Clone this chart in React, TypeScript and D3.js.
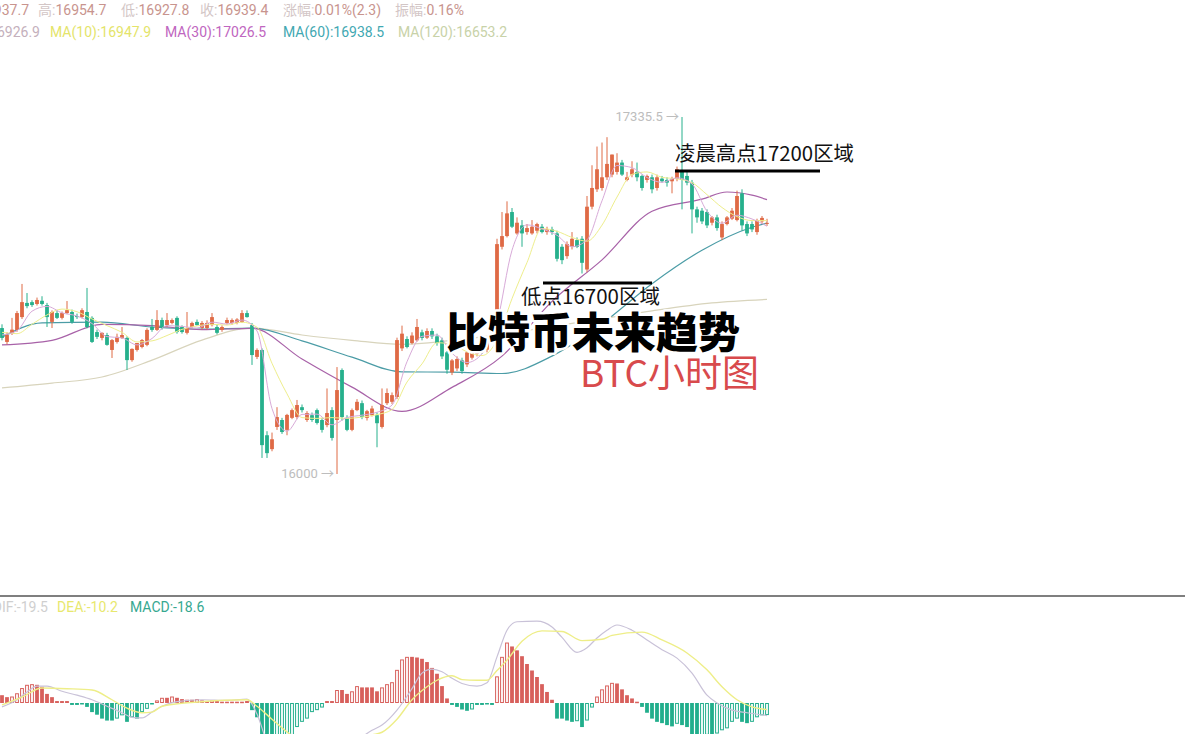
import * as d3 from "d3";

const W = 1185;
const H = 734;

// hourly candles: [open, high, low, close]
const CANDLES: [number, number, number, number][] = [
  [16546, 16560, 16500, 16509], [16494, 16530, 16485, 16520], [16528, 16584, 16520, 16540], [16539, 16610, 16532, 16602],
  [16587, 16711, 16580, 16643], [16640, 16677, 16620, 16628], [16643, 16650, 16625, 16632], [16636, 16660, 16630, 16651],
  [16648, 16665, 16630, 16636], [16632, 16640, 16550, 16587], [16569, 16612, 16546, 16606], [16602, 16610, 16580, 16584],
  [16584, 16608, 16578, 16602], [16602, 16647, 16598, 16613], [16606, 16615, 16562, 16569], [16591, 16600, 16580, 16587],
  [16587, 16620, 16582, 16613], [16606, 16696, 16545, 16550], [16584, 16590, 16490, 16494], [16531, 16540, 16505, 16513],
  [16509, 16530, 16500, 16528], [16520, 16528, 16480, 16483], [16464, 16505, 16434, 16501], [16494, 16525, 16488, 16513],
  [16509, 16550, 16505, 16520], [16509, 16515, 16389, 16426], [16426, 16470, 16420, 16468], [16464, 16490, 16458, 16490],
  [16475, 16505, 16470, 16501], [16483, 16545, 16478, 16539], [16550, 16580, 16532, 16539], [16539, 16613, 16535, 16576],
  [16576, 16585, 16540, 16546], [16557, 16602, 16550, 16576], [16565, 16582, 16560, 16576], [16584, 16590, 16525, 16531],
  [16550, 16556, 16525, 16531], [16528, 16606, 16522, 16546], [16550, 16570, 16545, 16565], [16569, 16578, 16555, 16557],
  [16546, 16572, 16540, 16565], [16546, 16575, 16540, 16565], [16557, 16602, 16552, 16587], [16550, 16560, 16522, 16528],
  [16539, 16556, 16532, 16550], [16565, 16585, 16560, 16576], [16565, 16582, 16558, 16576], [16566, 16583, 16560, 16578],
  [16569, 16613, 16565, 16602], [16602, 16612, 16585, 16587], [16557, 16565, 16408, 16445], [16438, 16470, 16430, 16464],
  [16464, 16470, 16060, 16108], [16145, 16160, 16060, 16078], [16093, 16155, 16085, 16130], [16176, 16250, 16165, 16213],
  [16202, 16210, 16150, 16157], [16165, 16225, 16145, 16221], [16210, 16245, 16205, 16239], [16213, 16277, 16205, 16258],
  [16250, 16260, 16230, 16239], [16202, 16235, 16195, 16228], [16220, 16230, 16195, 16202], [16239, 16245, 16185, 16191],
  [16202, 16210, 16155, 16165], [16183, 16320, 16175, 16228], [16239, 16250, 16125, 16135], [16202, 16400, 16000, 16314],
  [16389, 16395, 16200, 16213], [16210, 16220, 16160, 16165], [16165, 16245, 16160, 16239], [16239, 16280, 16235, 16270],
  [16265, 16275, 16205, 16213], [16210, 16240, 16200, 16235], [16220, 16255, 16215, 16245], [16220, 16230, 16100, 16190],
  [16176, 16320, 16170, 16258], [16265, 16320, 16258, 16303], [16270, 16305, 16262, 16295], [16288, 16510, 16280, 16501],
  [16470, 16555, 16460, 16525], [16505, 16515, 16470, 16475], [16490, 16530, 16485, 16518], [16500, 16580, 16495, 16550],
  [16530, 16540, 16500, 16509], [16510, 16545, 16505, 16535], [16535, 16545, 16505, 16515], [16515, 16525, 16480, 16490],
  [16500, 16510, 16430, 16440], [16455, 16460, 16375, 16390], [16380, 16430, 16370, 16425], [16395, 16440, 16385, 16430],
  [16425, 16435, 16375, 16385], [16410, 16460, 16400, 16455], [16435, 16480, 16428, 16470], [16450, 16485, 16440, 16480],
  [16485, 16495, 16450, 16460], [16465, 16515, 16455, 16505], [16495, 16545, 16490, 16535], [16510, 16880, 16500, 16860],
  [16850, 16980, 16840, 16890], [16890, 17020, 16885, 16975], [16980, 16995, 16920, 16925], [16900, 16960, 16895, 16940],
  [16930, 16950, 16850, 16900], [16905, 16935, 16895, 16920], [16900, 16950, 16895, 16925], [16910, 16940, 16900, 16935],
  [16925, 16935, 16900, 16905], [16905, 16925, 16895, 16915], [16915, 16925, 16895, 16905], [16900, 16910, 16795, 16805],
  [16850, 16860, 16785, 16800], [16815, 16870, 16805, 16860], [16850, 16905, 16840, 16880], [16875, 16885, 16845, 16850],
  [16880, 16890, 16750, 16790], [16765, 17040, 16755, 17000], [17000, 17155, 16990, 17070], [17065, 17225, 17055, 17140],
  [17070, 17240, 17060, 17110], [17110, 17260, 17100, 17160], [17120, 17195, 17110, 17195], [17130, 17200, 17120, 17165],
  [17165, 17175, 17115, 17120], [17100, 17130, 17095, 17110], [17120, 17170, 17110, 17140], [17130, 17165, 17095, 17110],
  [17115, 17120, 17060, 17070], [17100, 17120, 17090, 17115], [17110, 17120, 17050, 17065], [17070, 17120, 17060, 17110],
  [17105, 17115, 17090, 17095], [17100, 17110, 17075, 17090], [17095, 17112, 17050, 17105], [17105, 17150, 17095, 17140],
  [17130, 17335.5, 16990, 17100], [17115, 17130, 17080, 17090], [17090, 17100, 16900, 16990], [16990, 17000, 16940, 16960],
  [16985, 16995, 16935, 16945], [16980, 16990, 16920, 16930], [16940, 16965, 16930, 16960], [16960, 16970, 16910, 16920],
  [16885, 16945, 16875, 16935], [16935, 16965, 16930, 16960], [16955, 16995, 16950, 16985], [16950, 17060, 16945, 17040],
  [17050, 17065, 16910, 16930], [16935, 16945, 16890, 16900], [16935, 16945, 16905, 16915], [16905, 16955, 16895, 16950],
  [16945, 16965, 16935, 16958], [16937.7, 16954.7, 16927.8, 16939.4],
];

// moving averages, read every 3 candles for the fast ones
const MA5 = [
  16520, 16536, 16609, 16627, 16603, 16591, 16563, 16514, 16509, 16483, 16507, 16555, 16552, 16546, 16568, 16561,
  16576, 16535, 16245, 16160, 16223, 16224, 16184, 16211, 16220, 16231, 16258, 16420, 16515, 16520, 16452, 16417,
  16450, 16568, 16837, 16932, 16917, 16893, 16850, 16876, 17022, 17154, 17146, 17109, 17091, 17108, 17085, 16983,
  16938, 16968, 16954, 16926.9,
];
const MA10 = [
  16530, 16525, 16560, 16595, 16617, 16607, 16580, 16555, 16530, 16494, 16498, 16518, 16541, 16554, 16560, 16557,
  16568, 16549, 16414, 16300, 16211, 16208, 16211, 16208, 16213, 16222, 16241, 16344, 16412, 16491, 16485, 16457,
  16443, 16501, 16656, 16791, 16918, 16908, 16885, 16871, 16931, 17036, 17121, 17130, 17110, 17104, 17090, 17045,
  16997, 16963, 16948, 16947.9,
];
const MA30_IDX = [0, 10, 20, 30, 40, 50, 60, 70, 80, 90, 100, 110, 120, 130, 140, 145, 150, 153];
const MA30 = [16483, 16500, 16560, 16555, 16540, 16545, 16430, 16325, 16234, 16324, 16441, 16646, 16801, 16983, 17028, 17055, 17043, 17026.5];
const MA60_IDX = [0, 8, 20, 30, 40, 50, 60, 70, 80, 90, 100, 110, 120, 130, 140, 150, 153];
const MA60 = [16512, 16565, 16568, 16550, 16542, 16546, 16498, 16437, 16382, 16381, 16376, 16441, 16562, 16712, 16837, 16923, 16938.5];
const MA120_IDX = [0, 10, 20, 30, 40, 50, 60, 70, 80, 90, 100, 110, 120, 130, 142, 153];
const MA120 = [16322, 16340, 16363, 16426, 16501, 16546, 16520, 16500, 16485, 16500, 16522, 16552, 16580, 16610, 16640, 16653.2];

// MACD histogram, one bar per candle
const MACD_HIST = [
  12, 9, 10, 15, 23, 28, 29, 28, 25, 14, 9, 3, 3, 3, -3, -3, -2, -6, -14, -18, -24, -27, -27, -24, -19, -29, -22, -24,
  -14, -9, -2, 4, 8, 8, 10, 8, 6, 5, 5, 6, 4, 3, 4, 3, 2, 2, 2, 2, 2, 3, -11, -22, -55, -60, -62, -60, -58, -55,
  -50, -37, -29, -24, -14, -11, -7, 3, 3, 20, 20, 14, 18, 26, 24, 24, 24, 18, 24, 29, 32, 51, 67, 71, 71, 70, 68, 63,
  54, 45, 26, 7, -3, -6, -10, -12, -10, -3, -3, -1, -3, 41, 71, 93, 87, 81, 72, 60, 50, 40, 29, 17, 5, -24, -24, -27,
  -29, -28, -37, -27, -7, 10, 21, 27, 31, 30, 21, 12, 7, 2, -6, -15, -24, -29, -31, -34, -36, -32, -34, -37, -50, -52,
  -50, -49, -49, -47, -42, -39, -29, -24, -29, -31, -29, -22, -19, -18.6,
];
const DIF_IDX = [0, 3, 5, 7, 9, 12, 15, 18, 21, 24, 26, 28, 30, 32, 35, 40, 45, 49, 51, 53, 56, 60, 64, 68, 72, 74, 76, 79, 82, 84, 86, 88, 90, 92, 95, 97, 99, 101, 103, 107, 110, 112, 115, 117, 119, 121, 123, 126, 129, 132, 135, 138, 141, 143, 146, 149, 153];
const DIF = [-6, 5, 17, 26, 26, 18, 12, 5, -5, -15, -22, -23, -14, -5, 2, 5, 4, 6, -17, -60, -85, -90, -82, -70, -52, -42, -34, -11, 22, 46, 52, 48, 38, 30, 26, 31, 71, 112, 125, 126, 117, 101, 78, 85, 100, 112, 120, 112, 97, 82, 69, 46, 12, 0, -11, -15, -19.5];
const DEA_IDX = [0, 4, 8, 13, 18, 22, 25, 28, 30, 32, 40, 49, 51, 54, 58, 62, 66, 70, 74, 76, 79, 82, 85, 87, 90, 92, 95, 97, 99, 101, 104, 108, 112, 116, 120, 122, 128, 132, 137, 141, 144, 147, 150, 153];
const DEA = [-3, 9, 23, 22, 20, 5, -8, -15, -14, -5, 2, 5, -5, -25, -50, -62, -65, -58, -49, -45, -25, 5, 25, 35, 42, 36, 35, 35, 50, 66, 95, 111, 110, 96, 98, 104, 109, 97, 77, 51, 25, 5, -6, -10.2];

const UP = "#df6a45";
const DOWN = "#26b08c";
const BAR_UP = "#d8605c";
const BAR_DOWN = "#22ae8c";
const SANS = "Roboto, 'Noto Sans CJK SC', sans-serif";
const CJK = "'Noto Sans CJK SC', sans-serif";

export default function App() {
  const x = d3.scaleLinear().domain([0, CANDLES.length - 1]).range([2, 767]);
  const y = d3.scaleLinear().domain([16000, 17335.5]).range([474, 117]);
  const ym = d3.scaleLinear().domain([0, 100]).range([703, 638]);
  const bw = 3.8;

  const fastIdx = d3.range(0, CANDLES.length, 3);
  const maLine = (idx: number[], vals: number[]) =>
    d3.line<number>().x((_, k) => x(idx[k])).y((v) => y(v)).curve(d3.curveMonotoneX)(vals) ?? "";
  const macdLine = (idx: number[], vals: number[]) =>
    d3.line<number>().x((_, k) => x(idx[k])).y((v) => ym(v)).curve(d3.curveMonotoneX)(vals) ?? "";

  return (
    <svg width={W} height={H} style={{ position: "absolute", left: 0, top: 0, background: "#fff" }}>
      <defs>
        <clipPath id="macd-clip">
          <rect x={0} y={598} width={W} height={H - 598} />
        </clipPath>
      </defs>

      {/* header rows */}
      <g fontFamily={SANS} fontSize={14}>
        <text x={29} y={15} textAnchor="end"><tspan fill="#d3c6c6">开:</tspan><tspan fill="#c8948e">16937.7</tspan></text>
        <text x={38} y={15}><tspan fill="#d3c6c6">高:</tspan><tspan fill="#c8948e">16954.7</tspan></text>
        <text x={121} y={15}><tspan fill="#d3c6c6">低:</tspan><tspan fill="#c8948e">16927.8</tspan></text>
        <text x={200} y={15}><tspan fill="#d3c6c6">收:</tspan><tspan fill="#c8948e">16939.4</tspan></text>
        <text x={283} y={15}><tspan fill="#d3c6c6">涨幅:</tspan><tspan fill="#c8948e">0.01%(2.3)</tspan></text>
        <text x={395} y={15}><tspan fill="#d3c6c6">振幅:</tspan><tspan fill="#c8948e">0.16%</tspan></text>
        <text x={40} y={37} textAnchor="end" fill="#c4b0bc">MA(5):16926.9</text>
        <text x={50} y={37} fill="#e4e46a">MA(10):16947.9</text>
        <text x={165} y={37} fill="#c066c0">MA(30):17026.5</text>
        <text x={283} y={37} fill="#3fa8b2">MA(60):16938.5</text>
        <text x={398} y={37} fill="#c8d2a8">MA(120):16653.2</text>
      </g>

      {/* slow moving averages */}
      <g fill="none" strokeWidth={1.2}>
        <path d={maLine(MA120_IDX, MA120)} stroke="#d8d4bc" />
        <path d={maLine(MA60_IDX, MA60)} stroke="#4b9ca6" />
        <path d={maLine(MA30_IDX, MA30)} stroke="#a862a8" />
      </g>

      {/* candles */}
      <g>
        {CANDLES.map(([o, h, l, c], i) => {
          const col = c >= o ? UP : DOWN;
          const top = y(Math.max(o, c));
          const bh = Math.max(1, Math.abs(y(o) - y(c)));
          return (
            <g key={i}>
              <line x1={x(i)} x2={x(i)} y1={y(h)} y2={y(l)} stroke={col} strokeWidth={1} />
              <rect x={x(i) - bw / 2} y={top} width={bw} height={bh} fill={col} />
            </g>
          );
        })}
      </g>

      {/* fast moving averages */}
      <g fill="none" strokeWidth={1}>
        <path d={maLine(fastIdx, MA10)} stroke="#eeee8c" />
        <path d={maLine(fastIdx, MA5)} stroke="#d8aad8" />
      </g>

      {/* extreme labels */}
      <g fontFamily={SANS} fontSize={13} fill="#bdbdbd">
        <text x={x(136) - 3} y={y(17335.5) + 4} textAnchor="end">17335.5 →</text>
        <text x={x(67) - 3} y={y(16000) + 4} textAnchor="end">16000 →</text>
      </g>

      {/* annotations */}
      <line x1={675} x2={820} y1={171} y2={171} stroke="#000" strokeWidth={3} />
      <text x={675} y={161} fontFamily={CJK} fontSize={20.4} fill="#111">凌晨高点17200区域</text>
      <line x1={543} x2={652} y1={283} y2={283} stroke="#000" strokeWidth={3} />
      <text x={521} y={304} fontFamily={CJK} fontSize={20.5} fill="#111">低点16700区域</text>
      <text x={446} y={348} fontFamily={CJK} fontSize={42} fontWeight={900} fill="#000"
        stroke="#fff" strokeWidth={5} strokeLinejoin="round" style={{ paintOrder: "stroke" }}>比特币未来趋势</text>
      <text x={580} y={387} fontFamily={CJK} fontSize={37} fill="#d84a4c">BTC小时图</text>

      {/* divider */}
      <line x1={0} x2={W} y1={596} y2={596} stroke="#555" strokeWidth={1.6} />

      {/* MACD header */}
      <g fontFamily={SANS} fontSize={14}>
        <text x={48} y={612} textAnchor="end" fill="#cfcfcf">DIF:-19.5</text>
        <text x={57} y={612} fill="#e8e86e">DEA:-10.2</text>
        <text x={130} y={612} fill="#36a890">MACD:-18.6</text>
      </g>

      {/* MACD histogram and lines */}
      <g clipPath="url(#macd-clip)">
        {MACD_HIST.map((v, i) => {
          const prev = i > 0 ? MACD_HIST[i - 1] : v;
          const hollow = i > 0 && v > prev;
          const col = v >= 0 ? BAR_UP : BAR_DOWN;
          const top = Math.min(ym(0), ym(v));
          const hh = Math.max(1.5, Math.abs(ym(v) - ym(0)));
          return hollow ? (
            <rect key={i} x={x(i) - bw / 2 + 0.5} y={top + 0.5} width={bw - 1} height={Math.max(0.5, hh - 1)}
              fill="#fff" stroke={col} strokeWidth={1} />
          ) : (
            <rect key={i} x={x(i) - bw / 2} y={top} width={bw} height={hh} fill={col} />
          );
        })}
        <path d={macdLine(DIF_IDX, DIF)} fill="none" stroke="#c9c2d8" strokeWidth={1.2} />
        <path d={macdLine(DEA_IDX, DEA)} fill="none" stroke="#eeee88" strokeWidth={1.4} />
      </g>
    </svg>
  );
}
